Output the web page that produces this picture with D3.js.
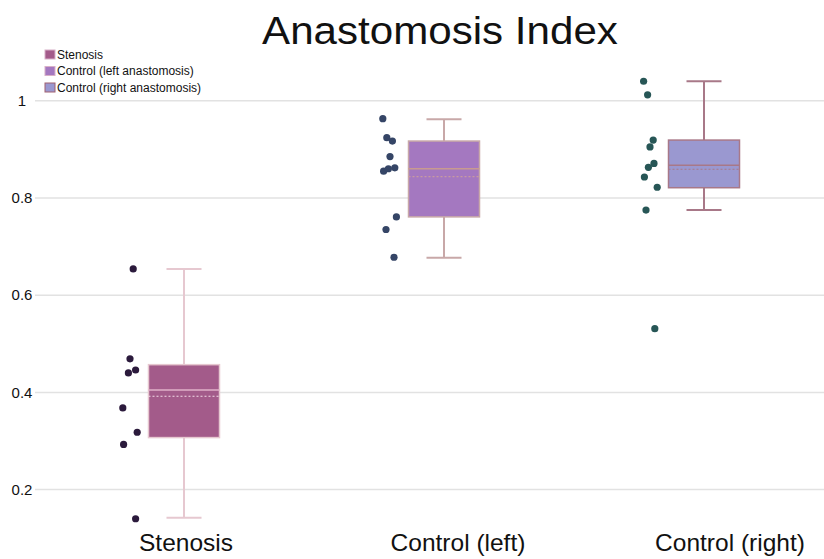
<!DOCTYPE html>
<html>
<head>
<meta charset="utf-8">
<script src="https://cdn.jsdelivr.net/npm/d3@7"></script>
<style>
  body { margin: 0; background: #fff; }
  svg { font-family: "Liberation Sans", Arial, sans-serif; }
</style>
</head>
<body>
<svg id="chart" width="824" height="559"></svg>
<script>
// Chart data
var categories = ["Stenosis", "Control (left)", "Control (right)"];
var legendLabels = ["Stenosis", "Control (left anastomosis)", "Control (right anastomosis)"];
var yTicks = [0.2, 0.4, 0.6, 0.8, 1];

// Box statistics: [whisker low, Q1, median, Q3, whisker high], plus mean
var boxStats = [
    [0.142, 0.307, 0.405, 0.457, 0.654],
    [0.677, 0.761, 0.860, 0.917, 0.962],
    [0.775, 0.821, 0.867, 0.919, 1.040]
];
var means = [0.392, 0.844, 0.859];

// Individual observations
var stenosisPoints = [0.654, 0.469, 0.440, 0.446, 0.368, 0.318, 0.293, 0.140];
var leftPoints = [0.963, 0.924, 0.917, 0.885, 0.855, 0.860, 0.862, 0.761, 0.735, 0.678];
var rightPoints = [1.040, 1.012, 0.919, 0.905, 0.871, 0.863, 0.843, 0.822, 0.775, 0.531];
// Horizontal jitter of each point (-1..1)
var stenosisJitter = [0.4, 0.0, -0.2, 0.7, -0.9, 0.9, -0.8, 0.7];
var leftJitter = [-0.9, -0.4, 0.3, 0.0, -0.8, -0.2, 0.6, 0.8, -0.5, 0.5];
var rightJitter = [-0.8, -0.3, 0.4, 0.0, 0.5, -0.2, -0.7, 0.9, -0.5, 0.6];

// Colors per group
var fills = ["#a35b8a", "#a478c0", "#9a98d0"];
var strokes = ["#e6c8d0", "#c8a8a8", "#a87888"];
var medianColors = ["#e0b0c8", "#c89a90", "#a87888"];
var meanColors = ["#f4dce8", "#c89aa0", "#a87888"];
var dotColors = ["#2b1a3c", "#354566", "#275656"];

var svg = d3.select("#chart");

// Scales
var y = d3.scaleLinear().domain([0.2, 1]).range([489.6, 100.7]);
var boxX = d3.scalePoint().domain(categories).range([184, 704]);
var labelX = d3.scalePoint().domain(categories).range([186, 730]);

// Gridlines and tick labels
svg.selectAll(".grid").data(yTicks).enter().append("line")
    .attr("x1", 35).attr("x2", 824)
    .attr("y1", d => y(d)).attr("y2", d => y(d))
    .attr("stroke", "#e2e2e2")
    .attr("stroke-width", 1.5);

svg.selectAll(".tick").data(yTicks).enter().append("text")
    .attr("x", 22).attr("y", d => y(d))
    .attr("dy", "0.35em")
    .attr("text-anchor", "middle")
    .attr("font-size", 15)
    .attr("fill", "#111")
    .text(d => d3.format("")(d));

// Title (source font is a bit wider than Liberation Sans)
svg.append("text")
    .attr("transform", "translate(440,44) scale(1.08,1)")
    .attr("text-anchor", "middle")
    .attr("font-size", 39)
    .attr("fill", "#111")
    .text("Anastomosis Index");

// Category labels
svg.selectAll(".cat").data(categories).enter().append("text")
    .attr("x", d => labelX(d)).attr("y", 551)
    .attr("text-anchor", "middle")
    .attr("font-size", 24.5)
    .attr("fill", "#111")
    .text(d => d);

// Boxes
var boxW = 71, capW = 35;
categories.forEach((c, i) => {
    var s = boxStats[i];
    var cx = boxX(c);
    var g = svg.append("g");

    // Whiskers
    g.append("line").attr("x1", cx).attr("x2", cx)
        .attr("y1", y(s[0])).attr("y2", y(s[1]))
        .attr("stroke", strokes[i]).attr("stroke-width", 2);
    g.append("line").attr("x1", cx).attr("x2", cx)
        .attr("y1", y(s[3])).attr("y2", y(s[4]))
        .attr("stroke", strokes[i]).attr("stroke-width", 2);
    [s[0], s[4]].forEach(v => {
        g.append("line").attr("x1", cx - capW / 2).attr("x2", cx + capW / 2)
            .attr("y1", y(v)).attr("y2", y(v))
            .attr("stroke", strokes[i]).attr("stroke-width", 2);
    });

    // Box
    g.append("rect")
        .attr("x", cx - boxW / 2).attr("width", boxW)
        .attr("y", y(s[3])).attr("height", y(s[1]) - y(s[3]))
        .attr("fill", fills[i])
        .attr("stroke", strokes[i]).attr("stroke-width", 1.5);

    // Median and mean
    g.append("line").attr("x1", cx - boxW / 2).attr("x2", cx + boxW / 2)
        .attr("y1", y(s[2])).attr("y2", y(s[2]))
        .attr("stroke", medianColors[i]).attr("stroke-width", 1.5);
    g.append("line").attr("x1", cx - boxW / 2).attr("x2", cx + boxW / 2)
        .attr("y1", y(means[i])).attr("y2", y(means[i]))
        .attr("stroke", meanColors[i]).attr("stroke-width", 1.2)
        .attr("stroke-dasharray", "2,2");
});

// Points
var pointSets = [stenosisPoints, leftPoints, rightPoints];
var jitterSets = [stenosisJitter, leftJitter, rightJitter];
categories.forEach((c, i) => {
    var cx = boxX(c) - 54;
    svg.selectAll(".pt" + i).data(pointSets[i]).enter().append("circle")
        .attr("cx", (d, j) => cx + jitterSets[i][j] * 8)
        .attr("cy", d => y(d))
        .attr("r", 3.6)
        .attr("fill", dotColors[i]);
});

// Legend
var legend = svg.append("g").attr("transform", "translate(45,50)");
legendLabels.forEach((l, i) => {
    legend.append("rect")
        .attr("x", 0).attr("y", i * 16.5)
        .attr("width", 10).attr("height", 9)
        .attr("fill", fills[i])
        .attr("stroke", i == 2 ? "#a06070" : "#d8b0c8")
        .attr("stroke-width", 1);
    legend.append("text")
        .attr("x", 12).attr("y", i * 16.5 + 8.5)
        .attr("font-size", 12)
        .attr("fill", "#111")
        .text(l);
});
</script>
</body>
</html>
